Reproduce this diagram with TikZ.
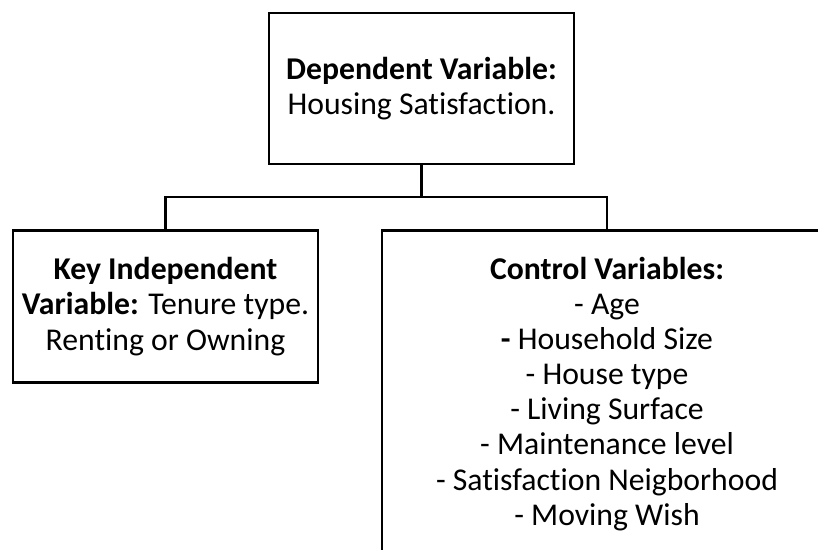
\documentclass[tikz,border=0pt]{standalone}
\usepackage{fontspec}
\setmainfont{Carlito}[Ligatures={TeX,NoCommon}]
\begin{document}
\begin{tikzpicture}[x=1pt,y=-1pt,
  box/.style={draw=black, line width=2.6pt, rectangle, inner sep=0pt,
              align=center, font=\fontsize{31.7}{35.3}\selectfont},
  link/.style={draw=black, line width=2.6pt, line join=miter}]
  \useasboundingbox (0,0) rectangle (818,549);
  \clip (0,0) rectangle (818,549);
  \fill[white] (0,0) rectangle (818,549);

  % outcome box
  \node[box, minimum width=305pt, minimum height=151pt] (dep) at (421.5,88.5)
    {\textbf{Dependent Variable:}\\Housing Satisfaction.};

  % key predictor box
  \node[box, minimum width=305pt, minimum height=152pt] (key) at (165.5,306.5)
    {\textbf{Key Independent}\\\textbf{Variable:} Tenure type.\\Renting or Owning};

  % control variables box (runs past the right and bottom edges)
  \node[box, minimum width=450pt, minimum height=345pt, anchor=north] (ctrl) at (607,229) {};
  \node[font=\fontsize{31.7}{35.1}\selectfont, align=center, anchor=north, inner sep=0pt]
    (ctrltext) at (607,257)
    {\textbf{Control Variables:}\\- Age\\\textbf{-} Household Size\\- House type\\- Living Surface\\
     - Maintenance level\\- Satisfaction Neigborhood\\- Moving Wish};

  % tree connectors
  \coordinate (bus) at (dep.south |- 0,197);
  \draw[link] (dep.south) -- (bus);
  \draw[link] (key.north) |- (bus) -| (ctrl.north);
\end{tikzpicture}
\end{document}
